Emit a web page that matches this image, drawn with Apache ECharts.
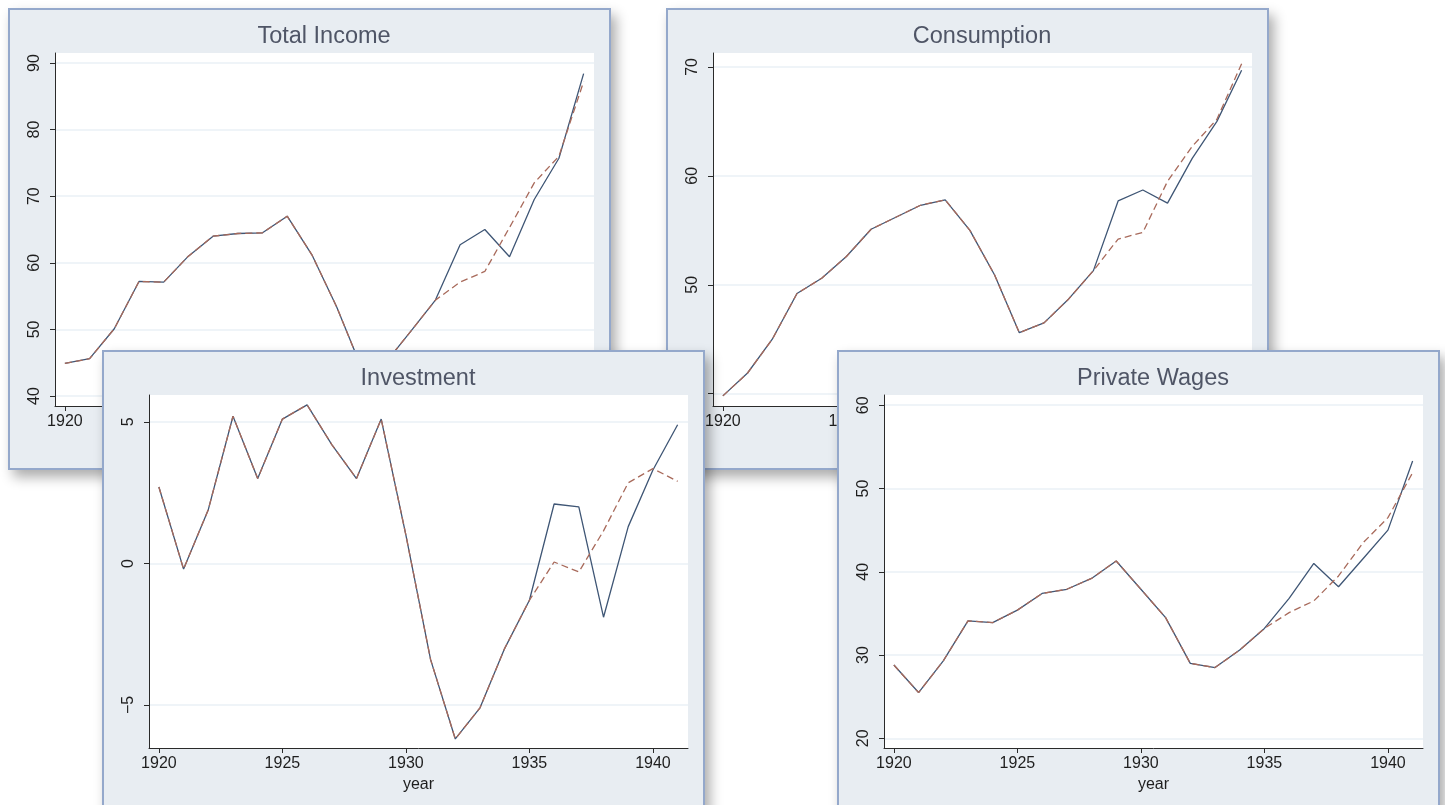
<!DOCTYPE html>
<html><head><meta charset="utf-8">
<script src="https://cdn.jsdelivr.net/npm/echarts@6/dist/echarts.min.js"></script>
<style>
html,body{margin:0;padding:0;background:#fff;width:1445px;height:805px;overflow:hidden;position:relative}
.win{position:absolute;box-sizing:border-box;width:603px;height:462px;border:2px solid #94a8cb;background:#e8edf2;box-shadow:5px 7px 12px rgba(0,0,0,0.33)}
.win>div{width:599px;height:458px}
</style></head><body>
<div class="win" style="left:8px;top:8px;z-index:1"><div id="c1"></div></div>
<div class="win" style="left:666px;top:8px;z-index:2"><div id="c2"></div></div>
<div class="win" style="left:102px;top:350px;z-index:3"><div id="c3"></div></div>
<div class="win" style="left:837px;top:350px;z-index:4"><div id="c4"></div></div>
<script>
// ---- data ----
const years = [1920,1921,1922,1923,1924,1925,1926,1927,1928,1929,1930,1931,1932,1933,1934,1935,1936,1937,1938,1939,1940,1941];
const xTicks = [1920,1925,1930,1935,1940];

const incomeActual = [44.9,45.6,50.1,57.2,57.1,61.0,64.0,64.4,64.5,67.0,61.2,53.4,44.3,45.1,49.7,54.4,62.7,65.0,60.9,69.5,75.7,88.4];
const incomeForecast = [44.9,45.6,50.1,57.2,57.1,61.0,64.0,64.4,64.5,67.0,61.2,53.4,44.3,45.1,49.7,54.4,57.1,58.7,65.3,72.0,76.0,87.2];
const incomeTicks = [40,50,60,70,80,90];

const consActual = [39.8,41.9,45.0,49.2,50.6,52.6,55.1,56.2,57.3,57.8,55.0,50.9,45.6,46.5,48.7,51.3,57.7,58.7,57.5,61.6,65.0,69.7];
const consForecast = [39.8,41.9,45.0,49.2,50.6,52.6,55.1,56.2,57.3,57.8,55.0,50.9,45.6,46.5,48.7,51.3,54.2,54.8,59.5,62.7,65.2,70.3];
const consTicks = [40,50,60,70];

const invActual = [2.7,-0.2,1.9,5.2,3.0,5.1,5.6,4.2,3.0,5.1,1.0,-3.4,-6.2,-5.1,-3.0,-1.3,2.1,2.0,-1.9,1.3,3.3,4.9];
const invForecast = [2.7,-0.2,1.9,5.2,3.0,5.1,5.6,4.2,3.0,5.1,1.0,-3.4,-6.2,-5.1,-3.0,-1.3,0.05,-0.3,1.15,2.85,3.35,2.9];
const invTicks = [-5,0,5];

const wageActual = [28.8,25.5,29.3,34.1,33.9,35.4,37.4,37.9,39.2,41.3,37.9,34.5,29.0,28.5,30.6,33.2,36.8,41.0,38.2,41.6,45.0,53.3];
const wageForecast = [28.8,25.5,29.3,34.1,33.9,35.4,37.4,37.9,39.2,41.3,37.9,34.5,29.0,28.5,30.6,33.2,35.1,36.5,39.5,43.5,46.5,51.9];
const wageTicks = [20,30,40,50,60];

// ---- chart builder ----
const FONT = "'Liberation Sans', Arial, Helvetica, sans-serif";
function pairs(v){ return years.map((y,i)=>[y, v[i]]); }
function makeOption(title, actual, forecast, yTicks, yMin, yMax){
  return {
    animation:false,
    backgroundColor:'transparent',
    textStyle:{fontFamily:FONT},
    title:{text:title, left:314, top:15, padding:0, textAlign:'center',
      textStyle:{fontFamily:FONT, fontSize:23.5, fontWeight:'normal', color:'#4f5566'}},
    grid:{left:45, right:15, top:43, bottom:62, show:true, backgroundColor:'#ffffff', borderWidth:0},
    xAxis:{type:'value', min:1919.6, max:1941.42,
      name:'year', nameLocation:'middle', nameGap:27,
      nameTextStyle:{fontFamily:FONT, fontSize:16, color:'#1e1e1e'},
      axisLine:{show:true, onZero:false, lineStyle:{color:'#2a2a2a', width:1}},
      axisTick:{show:true, length:5, customValues:xTicks, lineStyle:{color:'#2a2a2a', width:1}},
      axisLabel:{customValues:xTicks, margin:8, fontSize:16, color:'#1e1e1e', fontFamily:FONT,
        formatter:v=>String(v)},
      splitLine:{show:false}},
    yAxis:{type:'value', min:yMin, max:yMax,
      axisLine:{show:true, onZero:false, lineStyle:{color:'#2a2a2a', width:1}},
      axisTick:{show:true, length:5, customValues:yTicks, lineStyle:{color:'#2a2a2a', width:1}},
      axisLabel:{customValues:yTicks, rotate:90, margin:12, fontSize:16, color:'#1e1e1e', fontFamily:FONT,
        formatter:v=>String(v).replace('-', '\u2212')},
      splitLine:{show:true, lineStyle:{color:'#eaf0f6', width:1.6}}},
    series:[
      {type:'line', data:pairs(actual), showSymbol:false, z:3,
        lineStyle:{color:'#3f5675', width:1.3}},
      {type:'line', data:pairs(forecast), showSymbol:false, z:4,
        lineStyle:{color:'#a86a5b', width:1.3, type:[7,4]}}
    ]
  };
}
const specs = [
  ['c1','Total Income', incomeActual, incomeForecast, incomeTicks, 38.5, 91.5],
  ['c2','Consumption', consActual, consForecast, consTicks, 38.87, 71.28],
  ['c3','Investment', invActual, invForecast, invTicks, -6.52, 5.95],
  ['c4','Private Wages', wageActual, wageForecast, wageTicks, 18.84, 61.23]
];
specs.forEach(s=>{
  const ch = echarts.init(document.getElementById(s[0]), null, {renderer:'canvas'});
  ch.setOption(makeOption(s[1], s[2], s[3], s[4], s[5], s[6]));
});
</script>
</body></html>
